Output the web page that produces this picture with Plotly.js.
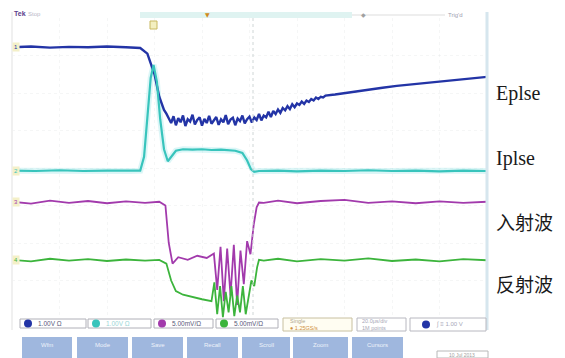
<!DOCTYPE html>
<html>
<head>
<meta charset="utf-8">
<script src="https://cdn.plot.ly/plotly-3.0.1.min.js"></script>
<style>html,body{margin:0;padding:0;background:#fff;}#chart{width:565px;height:358px;}</style>
</head>
<body>
<div id="chart"></div>
<script>
// ---- Data (time in % of screen, amplitude in graticule divisions) ----
const eplseT = [0,4,8,12,16,20,24,27,28.5,30,31,32,32.5,33,33.5,34,34.5,35,35.5,36,36.5,37,37.5,38,38.5,39,39.5,40,40.5,41,41.5,42,42.5,43,43.5,44,44.5,45,45.5,46,46.5,47,47.5,48,48.5,49,49.5,50,50.5,51,51.5,52,52.5,53,53.5,54,54.5,55,55.5,56,56.5,57,57.5,58,58.5,59,59.5,60,60.5,61,61.5,62,62.5,63,63.5,64,64.5,65,65.5,66,68,70,72,75,78,81,84,87,90,93,96,100];
const eplseV = [7.22,7.24,7.21,7.23,7.22,7.24,7.22,7.2,7.05,6.5,5.9,5.55,5.45,5.3,5.2,5.38,5.14,5.33,5.22,5.4,5.12,5.3,5.24,5.42,5.16,5.28,5.35,5.13,5.31,5.2,5.39,5.18,5.27,5.36,5.15,5.3,5.22,5.41,5.17,5.29,5.34,5.14,5.32,5.25,5.4,5.19,5.3,5.37,5.21,5.35,5.28,5.44,5.27,5.4,5.35,5.5,5.36,5.52,5.44,5.56,5.47,5.6,5.54,5.65,5.57,5.7,5.62,5.72,5.68,5.77,5.71,5.8,5.76,5.84,5.8,5.88,5.84,5.9,5.88,5.93,5.96,6.0,6.04,6.09,6.14,6.19,6.23,6.27,6.3,6.34,6.38,6.43];

const iplseT = [0,5,10,15,20,25,27,27.8,28.5,29.2,29.8,30.5,31.2,32,32.8,33.5,34.5,36,38,40,42,44,46,47,48.5,49.5,50.3,51,52,56,60,65,70,75,80,85,90,95,100];
const iplseV = [3.93,3.92,3.94,3.92,3.93,3.92,3.93,4.3,5.4,6.4,6.75,6.3,5.3,4.5,4.18,4.3,4.46,4.5,4.49,4.5,4.48,4.49,4.47,4.46,4.4,4.2,3.97,3.9,3.92,3.93,3.91,3.93,3.92,3.94,3.92,3.93,3.91,3.93,3.92];

const incidentT = [0,4,8,12,16,20,24,28,31,32.3,33,33.8,35,37,39,41,42.5,43.2,43.9,44.6,45.3,46,46.7,47.4,48.1,48.8,49.5,50.2,50.9,51.5,52,53,56,60,65,70,75,80,85,90,95,100];
const incidentV = [3.1,3.05,3.13,3.07,3.12,3.06,3.11,3.07,3.1,3.0,2.0,1.45,1.62,1.55,1.66,1.6,1.72,0.75,1.9,0.45,1.85,0.6,1.95,0.35,1.8,0.9,2.05,1.7,2.5,2.95,3.08,3.07,3.13,3.06,3.12,3.15,3.07,3.11,3.06,3.11,3.07,3.1];

const reflectedT = [0,4,8,12,16,20,24,28,31,32.5,33.5,34.5,36,38,40,42,42.6,43.2,43.8,44.4,45,45.6,46.2,46.8,47.4,48,48.6,49.2,49.8,50.4,51,51.6,52,53,56,60,65,70,75,80,85,90,95,100];
const reflectedV = [1.55,1.51,1.58,1.53,1.57,1.52,1.56,1.53,1.55,1.45,1.0,0.72,0.62,0.55,0.5,0.45,0.95,0.1,0.85,0.02,0.7,0.15,0.85,0.05,0.6,0.15,0.85,0.1,0.6,1.0,0.85,1.35,1.55,1.53,1.58,1.51,1.57,1.53,1.59,1.52,1.56,1.51,1.57,1.54];

const traceNames = ["Eplse","Iplse","入射波","反射波"];
const traceColors = ["#2334a6","#38c4bc","#a23aac","#3cb43c"];
const chanText = ["1.00V Ω","1.00V Ω","5.00mV/Ω","5.00mV/Ω"];
const buttonText = ["Wfm","Mode","Save","Recall","Scroll","Zoom","Cursors"];

// ---- Layout helpers (pixel -> paper) ----
const L = 12, R = 78, T = 18, B = 40, W = 565, H = 358;
const PW = W - L - R, PH = H - T - B;
const px = x => (x - L) / PW;
const py = y => (T + PH - y) / PH;

const series = [[eplseT,eplseV],[iplseT,iplseV],[incidentT,incidentV],[reflectedT,reflectedV]];
const traces = [];
// faint persistence halo for Iplse
traces.push({x: iplseT, y: iplseV, mode:'lines', line:{color:'rgba(140,225,228,0.3)', width:6}, hoverinfo:'skip', showlegend:false});
series.forEach((s,i) => traces.push({
  x: s[0], y: s[1], mode:'lines', name: traceNames[i],
  line:{color: traceColors[i], width: i===0 ? 2.4 : (i===1 ? 2.2 : 1.8)}, showlegend:false
}));

const shapes = [];
const annotations = [];
// screen edges
shapes.push({type:'line', xref:'paper', yref:'paper', x0:px(487), x1:px(487), y0:py(12), y1:py(330), line:{color:'#d6e6ee', width:3}});
shapes.push({type:'line', xref:'paper', yref:'paper', x0:px(12), x1:px(12), y0:py(12), y1:py(330), line:{color:'#f0f0f0', width:2}});
// center trigger line
shapes.push({type:'line', xref:'paper', yref:'paper', x0:px(253), x1:px(253), y0:py(18), y1:py(318), line:{color:'#cfd6d6', width:1, dash:'dot'}});
// top record bar
shapes.push({type:'rect', xref:'paper', yref:'paper', x0:px(140), x1:px(352), y0:py(12), y1:py(18), fillcolor:'#dff3f1', line:{width:0}});
shapes.push({type:'line', xref:'paper', yref:'paper', x0:px(352), x1:px(445), y0:py(15), y1:py(15), line:{color:'#dddddd', width:1}});
shapes.push({type:'rect', xref:'paper', yref:'paper', x0:px(150), x1:px(157), y0:py(21), y1:py(29), fillcolor:'#f3efc0', line:{color:'#c8b860', width:1}});
annotations.push({xref:'paper', yref:'paper', x:px(12), y:py(14), xanchor:'left', yanchor:'middle', text:'<b>Tek</b>', showarrow:false, font:{family:'Arial', size:7, color:'#5a3c8c'}});
annotations.push({xref:'paper', yref:'paper', x:px(26), y:py(14), xanchor:'left', yanchor:'middle', text:'Stop', showarrow:false, font:{family:'Arial', size:6, color:'#b8b8c8'}});
annotations.push({xref:'paper', yref:'paper', x:px(207), y:py(15), xanchor:'center', yanchor:'middle', text:'▼', showarrow:false, font:{family:'DejaVu Sans', size:6, color:'#d08a20'}});
annotations.push({xref:'paper', yref:'paper', x:px(363), y:py(15), xanchor:'center', yanchor:'middle', text:'◆', showarrow:false, font:{family:'DejaVu Sans', size:6, color:'#a0a0a0'}});
annotations.push({xref:'paper', yref:'paper', x:px(455), y:py(15), xanchor:'center', yanchor:'middle', text:"Trig'd", showarrow:false, font:{family:'Arial', size:6, color:'#a0a0b0'}});
// channel ground markers
const markerY = [47,171,202,260];
markerY.forEach((y,i) => annotations.push({xref:'paper', yref:'paper', x:px(12), y:py(y), xanchor:'left', yanchor:'middle', text:String(i+1), showarrow:false, font:{family:'Arial', size:6, color:traceColors[i]}, bgcolor:'#f4f0c8'}));

// right-hand labels
const labelY = [93,158,221,283];
traceNames.forEach((t,i) => annotations.push({
  xref:'paper', yref:'paper', x:px(494), y:py(labelY[i]), xanchor:'left', yanchor:'middle', text:t, showarrow:false,
  font:{family: i<2 ? 'Liberation Serif' : 'Noto Sans CJK SC', size: i<2 ? 20 : 19, color:'#1a1a1a'}
}));

// channel boxes at bottom
const boxX = [[20,86],[88,151],[154,213],[216,278]];
boxX.forEach((b,i) => {
  shapes.push({type:'rect', xref:'paper', yref:'paper', x0:px(b[0]), x1:px(b[1]), y0:py(319), y1:py(328), line:{color:'#b0b0b8', width:1}, fillcolor:'#ffffff'});
  shapes.push({type:'circle', xref:'paper', yref:'paper', x0:px(b[0]+4), x1:px(b[0]+12), y0:py(319.5), y1:py(327.5), fillcolor:traceColors[i], line:{width:0}});
  annotations.push({xref:'paper', yref:'paper', x:px(b[0]+16), y:py(323.5), xanchor:'left', yanchor:'middle', text:chanText[i], showarrow:false, font:{family:'Arial', size:6.5, color: i===1 ? '#9ad6d6' : '#5a5a7a'}});
});
shapes.push({type:'rect', xref:'paper', yref:'paper', x0:px(283), x1:px(352), y0:py(318), y1:py(331), line:{color:'#c8c0a0', width:1}, fillcolor:'#fffdf2'});
annotations.push({xref:'paper', yref:'paper', x:px(288), y:py(321), xanchor:'left', yanchor:'middle', text:'Single', showarrow:false, font:{family:'Arial', size:5.5, color:'#b0a890'}});
annotations.push({xref:'paper', yref:'paper', x:px(288), y:py(327.5), xanchor:'left', yanchor:'middle', text:'● 1.25GS/s', showarrow:false, font:{family:'Arial', size:5.5, color:'#d09040'}});
shapes.push({type:'rect', xref:'paper', yref:'paper', x0:px(357), x1:px(406), y0:py(318), y1:py(331), line:{color:'#b8b8c0', width:1}, fillcolor:'#ffffff'});
annotations.push({xref:'paper', yref:'paper', x:px(360), y:py(321), xanchor:'left', yanchor:'middle', text:'20.0μs/div', showarrow:false, font:{family:'Arial', size:5.5, color:'#a8a8b8'}});
annotations.push({xref:'paper', yref:'paper', x:px(360), y:py(327.5), xanchor:'left', yanchor:'middle', text:'1M points', showarrow:false, font:{family:'Arial', size:5.5, color:'#a8a8b8'}});
shapes.push({type:'rect', xref:'paper', yref:'paper', x0:px(410), x1:px(486), y0:py(318), y1:py(331), line:{color:'#b8b8c0', width:1}, fillcolor:'#ffffff'});
shapes.push({type:'circle', xref:'paper', yref:'paper', x0:px(422), x1:px(430), y0:py(320.5), y1:py(328.5), fillcolor:'#2334a6', line:{width:0}});
annotations.push({xref:'paper', yref:'paper', x:px(434), y:py(324.5), xanchor:'left', yanchor:'middle', text:'∫ ≡ 1.00 V', showarrow:false, font:{family:'Arial', size:6, color:'#a8a8b8'}});

// buttons
const btnX = [[22,72],[77,128],[132,183],[187,238],[242,290],[293,348],[352,403]];
btnX.forEach((b,i) => {
  shapes.push({type:'rect', xref:'paper', yref:'paper', x0:px(b[0]), x1:px(b[1]), y0:py(337), y1:py(358), fillcolor:'#9fb7de', line:{width:0}});
  annotations.push({xref:'paper', yref:'paper', x:px((b[0]+b[1])/2), y:py(345), xanchor:'center', yanchor:'middle', text:buttonText[i], showarrow:false, font:{family:'Arial', size:6, color:'#eef2fa'}});
});
shapes.push({type:'rect', xref:'paper', yref:'paper', x0:px(437), x1:px(488), y0:py(351), y1:py(358), line:{color:'#b8b8b8', width:1}, fillcolor:'#ffffff'});
annotations.push({xref:'paper', yref:'paper', x:px(462), y:py(354.5), xanchor:'center', yanchor:'middle', text:'10 Jul 2013', showarrow:false, font:{family:'Arial', size:5, color:'#a0a0a0'}});

const layout = {
  width: W, height: H,
  margin: {l:L, r:R, t:T, b:B, pad:0},
  paper_bgcolor:'#ffffff', plot_bgcolor:'#ffffff',
  showlegend:false,
  xaxis:{range:[0,100], showgrid:true, dtick:10, gridcolor:'rgba(215,220,220,0.25)', griddash:'dot', zeroline:false, showticklabels:false, ticks:'', showline:false},
  yaxis:{range:[0,8], showgrid:true, dtick:1, gridcolor:'rgba(215,220,220,0.25)', griddash:'dot', zeroline:false, showticklabels:false, ticks:'', showline:false},
  shapes: shapes,
  annotations: annotations
};
Plotly.newPlot('chart', traces, layout, {displayModeBar:false, staticPlot:true});
</script>
</body>
</html>
